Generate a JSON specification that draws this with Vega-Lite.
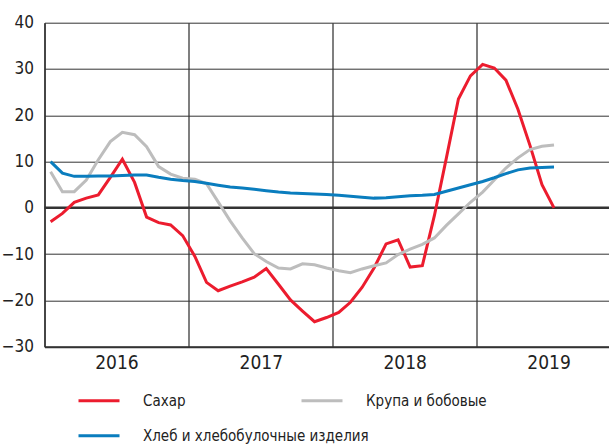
{
  "$schema": "https://vega.github.io/schema/vega-lite/v6.json",
  "width": 564.5,
  "height": 324,
  "autosize": {"type": "none"},
  "padding": {"left": 44.5, "top": 22.7, "right": 0, "bottom": 99.3},
  "background": "white",
  "config": {
    "view": {"stroke": null},
    "font": "Liberation Sans Narrow, DejaVu Sans Condensed, sans-serif"
  },
  "layer": [
    {
      "data": {"values": [{}]},
      "mark": {"type": "rule", "color": "#333333", "strokeWidth": 2.5},
      "encoding": {"y": {"datum": 0, "type": "quantitative"}}
    },
    {
      "data": {
        "values": [
          {"month": "2016-01", "Сахар": -3.0, "Крупа и бобовые": 7.8, "Хлеб и хлебобулочные изделия": 10.0},
          {"month": "2016-02", "Сахар": -1.2, "Крупа и бобовые": 3.5, "Хлеб и хлебобулочные изделия": 7.5},
          {"month": "2016-03", "Сахар": 1.2, "Крупа и бобовые": 3.5, "Хлеб и хлебобулочные изделия": 6.8},
          {"month": "2016-04", "Сахар": 2.1, "Крупа и бобовые": 6.0, "Хлеб и хлебобулочные изделия": 6.8},
          {"month": "2016-05", "Сахар": 2.8, "Крупа и бобовые": 10.4, "Хлеб и хлебобулочные изделия": 6.9},
          {"month": "2016-06", "Сахар": 6.6, "Крупа и бобовые": 14.3, "Хлеб и хлебобулочные изделия": 6.9},
          {"month": "2016-07", "Сахар": 10.5, "Крупа и бобовые": 16.3, "Хлеб и хлебобулочные изделия": 7.0},
          {"month": "2016-08", "Сахар": 5.5, "Крупа и бобовые": 15.8, "Хлеб и хлебобулочные изделия": 7.1},
          {"month": "2016-09", "Сахар": -2.0, "Крупа и бобовые": 13.2, "Хлеб и хлебобулочные изделия": 7.1},
          {"month": "2016-10", "Сахар": -3.2, "Крупа и бобовые": 8.9, "Хлеб и хлебобулочные изделия": 6.6},
          {"month": "2016-11", "Сахар": -3.7, "Крупа и бобовые": 7.3, "Хлеб и хлебобулочные изделия": 6.2},
          {"month": "2016-12", "Сахар": -6.0, "Крупа и бобовые": 6.4, "Хлеб и хлебобулочные изделия": 5.9},
          {"month": "2017-01", "Сахар": -10.5, "Крупа и бобовые": 6.2, "Хлеб и хлебобулочные изделия": 5.7},
          {"month": "2017-02", "Сахар": -16.1, "Крупа и бобовые": 5.2, "Хлеб и хлебобулочные изделия": 5.3},
          {"month": "2017-03", "Сахар": -17.9, "Крупа и бобовые": 1.3, "Хлеб и хлебобулочные изделия": 4.9},
          {"month": "2017-04", "Сахар": -16.9, "Крупа и бобовые": -2.8, "Хлеб и хлебобулочные изделия": 4.5},
          {"month": "2017-05", "Сахар": -16.0, "Крупа и бобовые": -6.5, "Хлеб и хлебобулочные изделия": 4.3},
          {"month": "2017-06", "Сахар": -15.0, "Крупа и бобовые": -9.9, "Хлеб и хлебобулочные изделия": 4.0},
          {"month": "2017-07", "Сахар": -13.1, "Крупа и бобовые": -11.6, "Хлеб и хлебобулочные изделия": 3.7},
          {"month": "2017-08", "Сахар": -16.5, "Крупа и бобовые": -13.0, "Хлеб и хлебобулочные изделия": 3.4},
          {"month": "2017-09", "Сахар": -19.9, "Крупа и бобовые": -13.2, "Хлеб и хлебобулочные изделия": 3.2},
          {"month": "2017-10", "Сахар": -22.3, "Крупа и бобовые": -12.1, "Хлеб и хлебобулочные изделия": 3.1},
          {"month": "2017-11", "Сахар": -24.6, "Крупа и бобовые": -12.3, "Хлеб и хлебобулочные изделия": 3.0},
          {"month": "2017-12", "Сахар": -23.7, "Крупа и бобовые": -13.0, "Хлеб и хлебобулочные изделия": 2.9},
          {"month": "2018-01", "Сахар": -22.6, "Крупа и бобовые": -13.6, "Хлеб и хлебобулочные изделия": 2.7},
          {"month": "2018-02", "Сахар": -20.4, "Крупа и бобовые": -14.0, "Хлеб и хлебобулочные изделия": 2.5},
          {"month": "2018-03", "Сахар": -17.2, "Крупа и бобовые": -13.2, "Хлеб и хлебобулочные изделия": 2.3},
          {"month": "2018-04", "Сахар": -13.0, "Крупа и бобовые": -12.5, "Хлеб и хлебобулочные изделия": 2.1},
          {"month": "2018-05", "Сахар": -7.8, "Крупа и бобовые": -11.9, "Хлеб и хлебобулочные изделия": 2.2},
          {"month": "2018-06", "Сахар": -6.9, "Крупа и бобовые": -10.1, "Хлеб и хлебобулочные изделия": 2.4},
          {"month": "2018-07", "Сахар": -12.8, "Крупа и бобовые": -8.9, "Хлеб и хлебобулочные изделия": 2.6},
          {"month": "2018-08", "Сахар": -12.5, "Крупа и бобовые": -7.9, "Хлеб и хлебобулочные изделия": 2.7},
          {"month": "2018-09", "Сахар": -1.7, "Крупа и бобовые": -6.5, "Хлеб и хлебобулочные изделия": 2.9},
          {"month": "2018-10", "Сахар": 10.8, "Крупа и бобовые": -3.8, "Хлеб и хлебобулочные изделия": 3.6},
          {"month": "2018-11", "Сахар": 23.5, "Крупа и бобовые": -1.3, "Хлеб и хлебобулочные изделия": 4.3},
          {"month": "2018-12", "Сахар": 28.5, "Крупа и бобовые": 1.2, "Хлеб и хлебобулочные изделия": 5.0},
          {"month": "2019-01", "Сахар": 31.0, "Крупа и бобовые": 3.4, "Хлеб и хлебобулочные изделия": 5.7},
          {"month": "2019-02", "Сахар": 30.2, "Крупа и бобовые": 6.0, "Хлеб и хлебобулочные изделия": 6.5},
          {"month": "2019-03", "Сахар": 27.6, "Крупа и бобовые": 8.6, "Хлеб и хлебобулочные изделия": 7.4},
          {"month": "2019-04", "Сахар": 21.3, "Крупа и бобовые": 10.8, "Хлеб и хлебобулочные изделия": 8.2},
          {"month": "2019-05", "Сахар": 13.5, "Крупа и бобовые": 12.6, "Хлеб и хлебобулочные изделия": 8.6},
          {"month": "2019-06", "Сахар": 5.0, "Крупа и бобовые": 13.3, "Хлеб и хлебобулочные изделия": 8.7},
          {"month": "2019-07", "Сахар": 0.0, "Крупа и бобовые": 13.6, "Хлеб и хлебобулочные изделия": 8.8}
        ]
      },
      "transform": [
        {"fold": ["Сахар", "Крупа и бобовые", "Хлеб и хлебобулочные изделия"], "as": ["series", "value"]}
      ],
      "mark": {"type": "line", "strokeWidth": 3},
      "encoding": {
        "x": {
          "field": "month",
          "type": "temporal",
          "timeUnit": "utcyearmonth",
          "bandPosition": 0.5,
          "scale": {
            "domain": [
              {"year": 2016, "month": 1, "date": 1, "utc": true},
              {"year": 2019, "month": 12, "date": 3, "utc": true}
            ]
          },
          "axis": {
            "values": [
              {"year": 2016, "month": 1, "date": 1, "utc": true},
              {"year": 2017, "month": 1, "date": 1, "utc": true},
              {"year": 2018, "month": 1, "date": 1, "utc": true},
              {"year": 2019, "month": 1, "date": 1, "utc": true}
            ],
            "format": "%Y",
            "labelOffset": 72,
            "labelOverlap": false,
            "labelFlush": false,
            "grid": true,
            "gridColor": "#555555",
            "gridWidth": 1.5,
            "ticks": false,
            "domainColor": "#333333",
            "domainWidth": 2,
            "labelFontSize": 19,
            "labelColor": "#222222",
            "labelPadding": 7,
            "title": null
          }
        },
        "y": {
          "field": "value",
          "type": "quantitative",
          "scale": {"domain": [-30, 40], "nice": false},
          "axis": {
            "values": [-30, -20, -10, 0, 10, 20, 30, 40],
            "grid": true,
            "gridColor": "#333333",
            "gridWidth": 1,
            "ticks": false,
            "domainColor": "#333333",
            "domainWidth": 1.5,
            "labelFontSize": 17,
            "labelColor": "#222222",
            "labelPadding": 11,
            "title": null
          }
        },
        "color": {
          "field": "series",
          "type": "nominal",
          "scale": {
            "domain": ["Сахар", "Крупа и бобовые", "Хлеб и хлебобулочные изделия"],
            "range": ["#ec1c2e", "#bdbdbd", "#0a7dbe"]
          },
          "legend": {
            "orient": "none",
            "direction": "horizontal",
            "legendX": 32.5,
            "legendY": 356,
            "columns": 2,
            "gridAlign": "none",
            "columnPadding": -74,
            "rowPadding": 5,
            "symbolType": "stroke",
            "symbolSize": 1681,
            "symbolStrokeWidth": 3,
            "labelFontSize": 15,
            "labelOffset": 22,
            "labelColor": "#222222",
            "labelLimit": 400,
            "padding": 0,
            "title": null
          }
        }
      }
    }
  ]
}
